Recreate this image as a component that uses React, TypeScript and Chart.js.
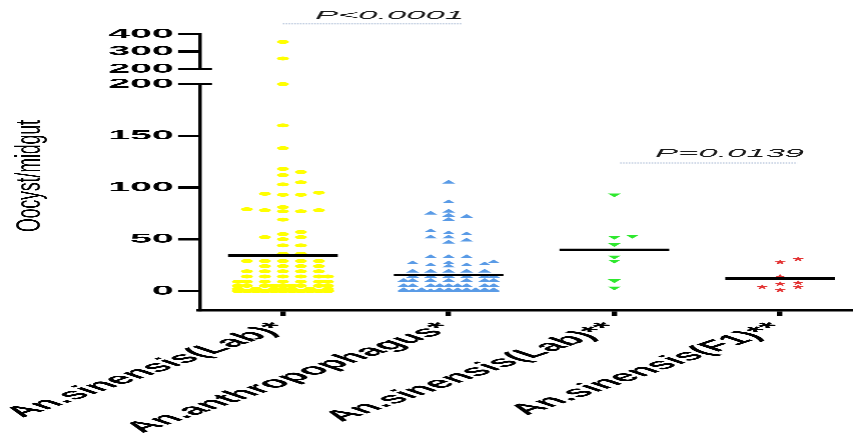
import React, { useEffect, useRef } from "react";
import { Chart, registerables } from "chart.js";

Chart.register(...registerables);

// ---------------- data ----------------
const categories = [
  "An.sinensis(Lab)*",
  "An.anthropophagus*",
  "An.sinensis(Lab)**",
  "An.sinensis(F1)**",
];

const sinensisLabA = [
  355, 260, 200, 160, 138, 118, 115, 112, 105, 103, 95, 94, 93, 93, 81, 79, 78, 78, 77, 77, 69,
  57, 55, 52, 52, 50, 44, 44, 36, 36, 29, 29, 29, 29, 29, 24, 24, 24, 24, 19, 19, 19, 19, 19,
  14, 14, 14, 14, 14, 14, 9, 9, 9, 9, 9, 9, 9, 5, 5, 5, 5, 5, 5, 5, 5, 5, 2, 2, 2, 2, 2, 2, 2,
  2, 2, 2, 0, 0, 0, 0, 0, 0, 0, 0, 0, 0, 0, 0, 0, 0, 0, 0, 0, 0, 0, 0, 0, 0, 0, 0, 0, 0, 0, 0,
];

const anthropophagus = [
  105, 86, 77, 75, 73, 72, 69, 58, 56, 55, 52, 52, 49, 47, 33, 33, 33, 28, 27, 27, 26, 25, 25,
  24, 19, 19, 19, 19, 19, 14, 14, 14, 14, 14, 14, 10, 10, 10, 10, 10, 10, 10, 5, 5, 5, 5, 5, 5,
  5, 5, 5, 1, 1, 1, 1, 1, 1, 1, 1, 1, 1, 1, 0, 0, 0, 0, 0, 0, 0, 0, 0, 0, 0, 0, 0, 0, 0, 0, 0,
  0, 0, 0, 0, 0, 0, 0, 0, 0, 0, 0, 0, 0, 0, 0, 0, 0, 0, 0,
];

const sinensisLabB = [93, 53, 52, 45, 33, 29, 10, 3];

const sinensisF1 = [31, 28, 14, 8, 7, 4, 4, 1];

const yLowerTicks = [0, 50, 100, 150, 200];
const yUpperTicks = [200, 300, 400];
const yTickLabels = ["0", "50", "100", "150", "200", "200", "300", "400"];

const pValueLabels = ["P<0.0001", "P=0.0139"];
const yTitle = "Oocyst/midgut";

// ---------------- axis break ----------------
const BREAK_AT = 200;
const GAP = 14.5;
const UPPER_K = 0.1694;
const toAxis = (v: number, upper = false) =>
  v <= BREAK_AT && !upper ? v : BREAK_AT + GAP + (v - BREAK_AT) * UPPER_K;
const Y_MIN = -18.4;
const Y_MAX = toAxis(400, true);

const FONT = "'Liberation Sans', Arial, Helvetica, sans-serif";
const W = 284;
const H = 436;

// beeswarm layout parameters (category units / axis units)
const STEP = 9 / 165.7;
const DX = 16 / 165.7;
const DY = 3.9;
const MAXK = 5;

function swarm(values: number[], gi: number) {
  const pts = values.map((v) => toAxis(v)).sort((a, b) => a - b);
  const placed: { t: number; o: number }[] = [];
  const cands = [0];
  for (let k = 1; k <= MAXK; k++) cands.push(k * STEP, -k * STEP);
  for (const t of pts) {
    let best = 0;
    let bestScore = Infinity;
    for (const c of cands) {
      let score = 0;
      for (const q of placed) {
        const dy = Math.abs(q.t - t);
        const dx = Math.abs(q.o - c);
        if (dy < DY && dx < DX) score += ((DX - dx) / DX) * ((DY - dy) / DY) + 1e-6;
      }
      if (score < bestScore - 1e-9) {
        bestScore = score;
        best = c;
        if (score === 0) break;
      }
    }
    placed.push({ t, o: best });
  }
  return placed.map((q) => ({ x: gi + q.o, y: q.t }));
}

const mean = (a: number[]) => a.reduce((s, v) => s + v, 0) / a.length;

function makeStar() {
  const c = document.createElement("canvas");
  c.width = 40;
  c.height = 50;
  const g = c.getContext("2d")!;
  g.fillStyle = "#e33434";
  g.beginPath();
  for (let i = 0; i < 10; i++) {
    const r = i % 2 === 0 ? 1 : 0.45;
    const a = -Math.PI / 2 + (i * Math.PI) / 5;
    const px = 20 + Math.cos(a) * r * 20;
    const py = 27 + Math.sin(a) * r * 25;
    if (i === 0) g.moveTo(px, py);
    else g.lineTo(px, py);
  }
  g.closePath();
  g.fill();
  const img = new Image(4, 5);
  img.src = c.toDataURL();
  return img;
}

const annotationPlugin = {
  id: "brokenAxisAndNotes",
  afterDraw(chart: any) {
    const ctx = chart.ctx as CanvasRenderingContext2D;
    const ys = chart.scales.y;
    const xs = chart.scales.x;
    const left = chart.chartArea.left;
    const bottom = chart.chartArea.bottom;
    ctx.save();
    ctx.strokeStyle = "#000";
    // broken y axis line
    const yTop = ys.getPixelForValue(toAxis(400, true));
    const yUp = ys.getPixelForValue(toAxis(200, true));
    const yLo = ys.getPixelForValue(200);
    ctx.lineWidth = 1.15;
    ctx.beginPath();
    ctx.moveTo(left, yTop - 1.25);
    ctx.lineTo(left, yUp + 1.25);
    ctx.moveTo(left, yLo - 1.25);
    ctx.lineTo(left, bottom + 1.4);
    ctx.stroke();
    ctx.lineWidth = 2.5;
    ctx.beginPath();
    ctx.moveTo(left, yUp);
    ctx.lineTo(left + 4, yUp);
    ctx.moveTo(left, yLo);
    ctx.lineTo(left + 4, yLo);
    ctx.stroke();

    // y axis title (condensed)
    ctx.save();
    ctx.fillStyle = "#000";
    ctx.font = `17.5px ${FONT}`;
    ctx.translate(10.1, 176);
    ctx.scale(0.66, 1);
    ctx.rotate(-Math.PI / 2);
    ctx.textAlign = "center";
    ctx.textBaseline = "middle";
    ctx.fillText(yTitle, 0, 0);
    ctx.restore();

    // p-value brackets
    const notes = [
      { text: pValueLabels[0], x1: 0, x2: 1.081, lineY: 258.1, tx: 0.194, ty: 262.9 },
      { text: pValueLabels[1], x1: 2.035, x2: 3.103, lineY: 123.7, tx: 2.246, ty: 129.5 },
    ];
    for (const n of notes) {
      ctx.save();
      ctx.strokeStyle = "#9fb2cf";
      ctx.lineWidth = 1;
      ctx.setLineDash([0.5, 0.45]);
      const ly = ys.getPixelForValue(n.lineY);
      ctx.beginPath();
      ctx.moveTo(xs.getPixelForValue(n.x1), ly);
      ctx.lineTo(xs.getPixelForValue(n.x2), ly);
      ctx.stroke();
      ctx.restore();
      ctx.fillStyle = "#1a1a1a";
      ctx.font = `italic 11.5px ${FONT}`;
      ctx.textAlign = "left";
      ctx.textBaseline = "alphabetic";
      ctx.fillText(n.text, xs.getPixelForValue(n.tx), ys.getPixelForValue(n.ty));
    }
    ctx.restore();
  },
};

function buildConfig(star: HTMLImageElement): any {
  const groups = [sinensisLabA, anthropophagus, sinensisLabB, sinensisF1];
  const styles = [
    { color: "#ffff00", pointStyle: "circle", radius: 2, rotation: 0 },
    { color: "#5a9be6", pointStyle: "triangle", radius: 2.5, rotation: 0 },
    { color: "#2ee82e", pointStyle: "triangle", radius: 2.5, rotation: 180 },
    { color: "#e33434", pointStyle: star as any, radius: 2.5, rotation: 0 },
  ];
  const scatterSets = groups.map((vals, i) => ({
    type: "scatter",
    data: swarm(vals, i),
    backgroundColor: styles[i].color,
    borderColor: styles[i].color,
    borderWidth: 0,
    pointStyle: styles[i].pointStyle,
    pointRadius: styles[i].radius,
    pointRotation: styles[i].rotation,
    pointHoverRadius: styles[i].radius,
    order: 2,
  }));
  const meanSets = groups.map((vals, i) => ({
    type: "line",
    data: [
      { x: i - 0.331, y: mean(vals) },
      { x: i + 0.331, y: mean(vals) },
    ],
    borderColor: "#000",
    borderWidth: 2.5,
    pointRadius: 0,
    fill: false,
    order: 1,
  }));
  return {
    type: "scatter",
    data: { datasets: [...meanSets, ...scatterSets] },
    plugins: [annotationPlugin],
    options: {
      animation: false,
      responsive: false,
      devicePixelRatio: 3,
      events: [],
      layout: { padding: { top: 34, left: 0, right: 0, bottom: 0 }, autoPadding: false },
      plugins: { legend: { display: false }, tooltip: { enabled: false } },
      scales: {
        x: {
          type: "linear",
          min: -0.5,
          max: 3.44,
          border: { display: true, color: "#000", width: 2.8 },
          grid: { drawOnChartArea: false, drawTicks: true, tickLength: 6, color: "#000", lineWidth: 1.8 },
          ticks: {
            autoSkip: false,
            minRotation: 45,
            maxRotation: 45,
            padding: 3,
            color: "#000",
            font: { family: FONT, size: 15, weight: "bold" },
            callback: (v: number) => categories[v] ?? "",
          },
          afterBuildTicks: (s: any) => {
            s.ticks = categories.map((_, i) => ({ value: i }));
          },
          afterFit: (s: any) => {
            s.height = 126;
            s.paddingLeft = 0;
            s.paddingRight = 0;
          },
        },
        y: {
          type: "linear",
          min: Y_MIN,
          max: Y_MAX,
          border: { display: false },
          grid: { drawOnChartArea: false, drawTicks: true, tickLength: 7.3, color: "#000", lineWidth: 2.5 },
          ticks: {
            padding: 1.5,
            color: "#000",
            font: { family: FONT, size: 13, weight: "bold" },
            callback: (_v: number, i: number) => yTickLabels[i],
          },
          afterBuildTicks: (s: any) => {
            s.ticks = [
              ...yLowerTicks.map((v) => ({ value: toAxis(v) })),
              ...yUpperTicks.map((v) => ({ value: toAxis(v, true) })),
            ];
          },
          afterFit: (s: any) => {
            s.width = 66.6;
            s.paddingTop = 0;
            s.paddingBottom = 0;
          },
        },
      },
    },
  };
}

export default function App() {
  const ref = useRef<HTMLCanvasElement>(null);
  useEffect(() => {
    document.body.style.margin = "0";
    const canvas = ref.current!;
    let chart: Chart | null = null;
    let cancelled = false;
    const star = makeStar();
    const build = () => {
      if (cancelled || chart) return;
      chart = new Chart(canvas, buildConfig(star));
    };
    if (star.complete && star.naturalWidth) build();
    else {
      star.onload = build;
      star.onerror = build;
    }
    return () => {
      cancelled = true;
      if (chart) chart.destroy();
      chart = null;
    };
  }, []);
  return (
    <canvas
      ref={ref}
      width={W}
      height={H}
      style={{ width: "853px", height: "436px", display: "block" }}
    />
  );
}
